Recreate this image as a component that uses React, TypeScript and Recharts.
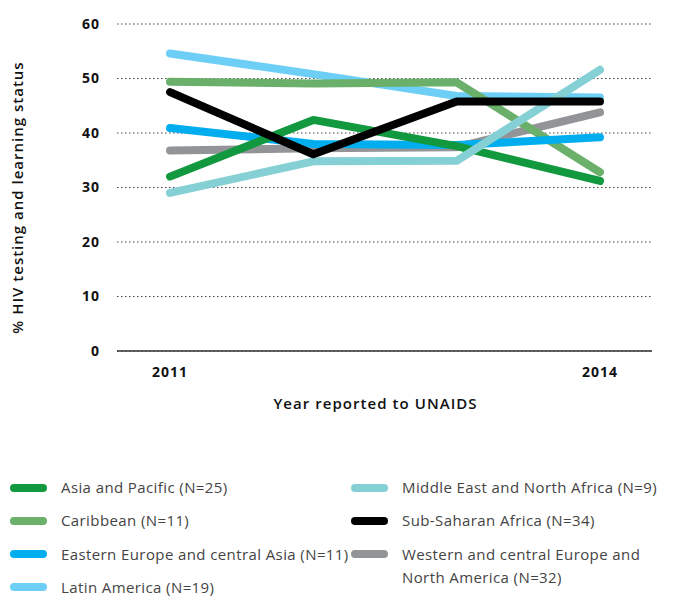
import React from "react";
import { LineChart, Line, XAxis, YAxis, CartesianGrid, Label } from "recharts";

const years = [2011, 2012, 2013, 2014];
const asiaPacific = [32, 42.4, 37.6, 31.2];
const caribbean = [49.4, 49.1, 49.3, 32.8];
const easternEurope = [40.9, 38.0, 37.8, 39.2];
const latinAmerica = [54.6, 50.8, 46.8, 46.5];
const middleEast = [29.0, 34.8, 34.9, 51.6];
const subSaharan = [47.5, 36.1, 45.8, 45.8];
const westernEurope = [36.8, 37.2, 37.4, 43.8];
const yTicks = [0, 10, 20, 30, 40, 50, 60];
const xTicks = [2011, 2014];

const series = [
  { key: "we", name: "Western and central Europe and North America (N=32)", color: "#929497", values: westernEurope },
  { key: "la", name: "Latin America (N=19)", color: "#6dcff6", values: latinAmerica },
  { key: "ca", name: "Caribbean (N=11)", color: "#6aaf6a", values: caribbean },
  { key: "ee", name: "Eastern Europe and central Asia (N=11)", color: "#00aeef", values: easternEurope },
  { key: "ap", name: "Asia and Pacific (N=25)", color: "#12993f", values: asiaPacific },
  { key: "me", name: "Middle East and North Africa (N=9)", color: "#85d0d5", values: middleEast },
  { key: "ss", name: "Sub-Saharan Africa (N=34)", color: "#000000", values: subSaharan },
];

const data = years.map((y, i) => {
  const row: any = { year: y };
  series.forEach((s) => (row[s.key] = s.values[i]));
  return row;
});

const legendLeft = [
  { name: "Asia and Pacific (N=25)", color: "#12993f" },
  { name: "Caribbean (N=11)", color: "#6aaf6a" },
  { name: "Eastern Europe and central Asia (N=11)", color: "#00aeef" },
  { name: "Latin America (N=19)", color: "#6dcff6" },
];
const legendRight = [
  { name: "Middle East and North Africa (N=9)", color: "#85d0d5" },
  { name: "Sub-Saharan Africa (N=34)", color: "#000000" },
  { name: "Western and central Europe and\nNorth America (N=32)", color: "#929497" },
];

const FONT = "'Open Sans', sans-serif";

function LegendItem({ name, color, top, left }: any) {
  const lines = name.split("\n");
  return (
    <div style={{ position: "absolute", top, left, display: "flex", alignItems: "flex-start" }}>
      <div style={{ width: 37, height: 8, borderRadius: 4, background: color, marginTop: 7.5, marginRight: 14 }} />
      <div
        style={{
          fontFamily: FONT,
          fontSize: 15,
          letterSpacing: 0.4,
          color: "#444",
          lineHeight: "23px",
          whiteSpace: "nowrap",
        }}
      >
        {lines.map((l: string, i: number) => (
          <div key={i}>{l}</div>
        ))}
      </div>
    </div>
  );
}

export default function App() {
  return (
    <div style={{ position: "absolute", left: 0, top: 0, width: 676, height: 598, background: "#fff" }}>
      <LineChart width={676} height={420} data={data} margin={{ top: 24, right: 24, left: 0, bottom: 9 }}>
        <CartesianGrid vertical={false} stroke="#444" strokeDasharray="1.5 2.5" />
        <XAxis
          dataKey="year"
          type="number"
          domain={[2010.63, 2014.363]}
          ticks={xTicks}
          height={60}
          tickLine={false}
          tickSize={0}
          tickMargin={16}
          axisLine={{ stroke: "#333", strokeWidth: 1.5 }}
          tick={{ fill: "#111", fontSize: 14, fontWeight: 700, fontFamily: FONT, letterSpacing: 1 }}
          allowDataOverflow
        >
          <Label
            value="Year reported to UNAIDS"
            position="insideBottom"
            offset={2}
            dx={-9}
            style={{ fill: "#111", fontSize: 15, fontWeight: 600, fontFamily: FONT, letterSpacing: 1.05 }}
          />
        </XAxis>
        <YAxis
          width={117}
          domain={[0, 60]}
          ticks={yTicks}
          tickLine={false}
          axisLine={false}
          tickSize={0}
          tickMargin={17}
          tick={{ fill: "#111", fontSize: 14, fontWeight: 700, fontFamily: FONT, letterSpacing: 1 }}
        >
          <Label
            content={(props: any) => {
              const vb = props.viewBox || { x: 0, y: 24, height: 327 };
              const cx = vb.x + 17;
              const cy = vb.y + vb.height / 2 + 10;
              return (
                <text
                  x={cx}
                  y={cy}
                  transform={`rotate(-90 ${cx} ${cy})`}
                  textAnchor="middle"
                  dominantBaseline="central"
                  style={{ fill: "#111", fontSize: 15, fontWeight: 600, fontFamily: FONT, letterSpacing: 1 }}
                >
                  % HIV testing and learning status
                </text>
              );
            }}
          />
        </YAxis>
        {series.map((s) => (
          <Line
            key={s.key}
            dataKey={s.key}
            name={s.name}
            stroke={s.color}
            strokeWidth={8}
            strokeLinecap="round"
            strokeLinejoin="round"
            dot={false}
            activeDot={false}
            type="linear"
            isAnimationActive={false}
          />
        ))}
      </LineChart>
      {legendLeft.map((it, i) => (
        <LegendItem key={it.name} name={it.name} color={it.color} top={476 + i * 33.3} left={10} />
      ))}
      {legendRight.map((it, i) => (
        <LegendItem key={it.name} name={it.name} color={it.color} top={476 + i * 33.3} left={351} />
      ))}
    </div>
  );
}
